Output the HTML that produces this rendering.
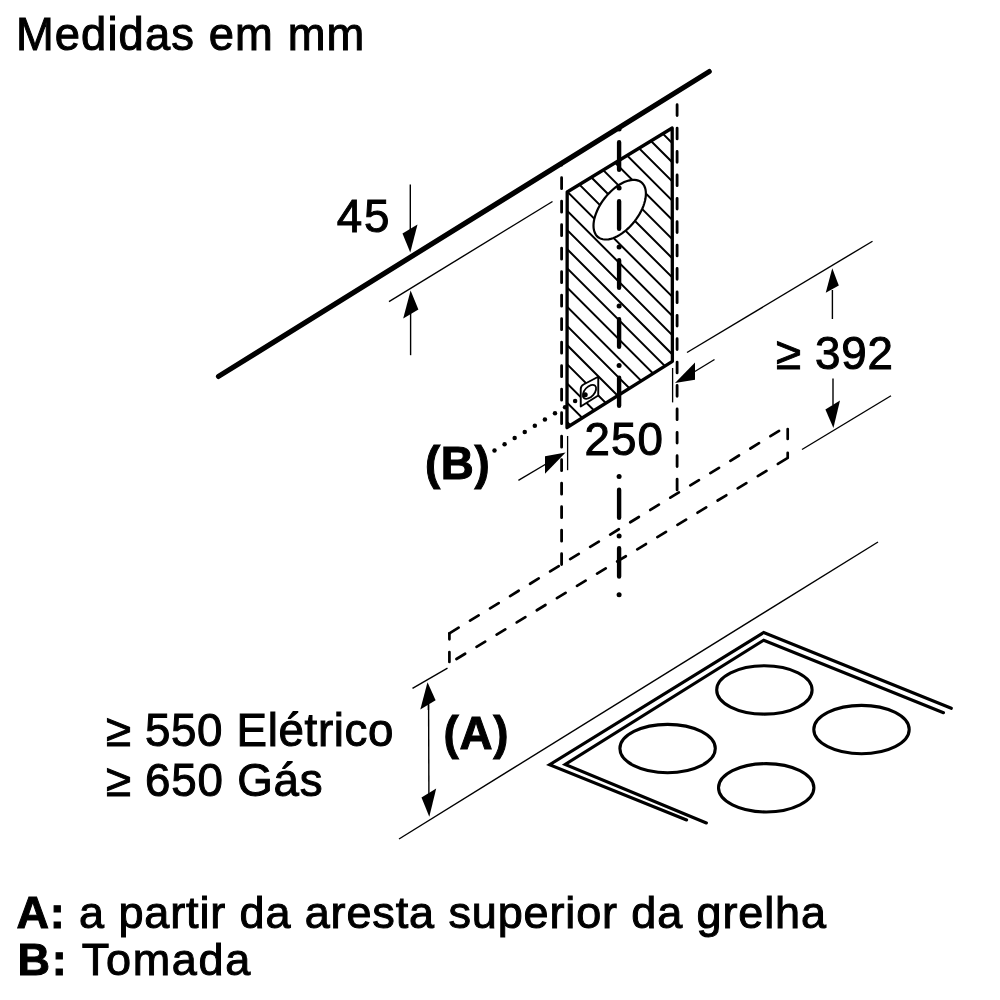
<!DOCTYPE html>
<html><head><meta charset="utf-8"><style>
html,body{margin:0;padding:0;background:#fff;}
svg{display:block;filter:grayscale(100%);}
text{font-family:"Liberation Sans",sans-serif;fill:#000;}
</style></head><body>
<svg width="1000" height="1000" viewBox="0 0 1000 1000" stroke="#000">
<rect x="0" y="0" width="1000" height="1000" fill="#fff" stroke="none"/>
<line x1="218.5" y1="376.4" x2="709.2" y2="71.6" stroke-width="5.2" stroke-linecap="round" />
<line x1="389" y1="301.6" x2="552.5" y2="201.5" stroke-width="1.4" stroke-linecap="butt" />
<line x1="410.3" y1="184.4" x2="410.3" y2="232" stroke-width="1.4" stroke-linecap="butt" />
<polygon points="410.25,252.5 402.5,233.5 417.5,224.5" fill="#000" stroke="none" stroke-width="0" />
<line x1="410.6" y1="355.2" x2="410.6" y2="312" stroke-width="1.4" stroke-linecap="butt" />
<polygon points="410.6,290.4 403.2,318.6 418.4,309.4" fill="#000" stroke="none" stroke-width="0" />
<text x="336.7" y="232" font-size="45.7" font-weight="400" text-anchor="start" letter-spacing="2">45</text>
<path d="M561.6 163L561.6 165.2M561.6 177.7L561.6 188.7M561.6 201.2L561.6 212.2M561.6 224.7L561.6 235.7M561.6 248.2L561.6 259.2M561.6 271.7L561.6 282.7M561.6 295.2L561.6 306.2M561.6 318.7L561.6 329.7M561.6 342.2L561.6 353.2M561.6 365.7L561.6 376.7M561.6 389.2L561.6 400.2M561.6 412.7L561.6 423.7M561.6 436.2L561.6 447.2M561.6 459.7L561.6 470.7M561.6 483.2L561.6 494.2M561.6 506.7L561.6 517.7M561.6 530.2L561.6 541.2M561.6 553.7L561.6 564.5" stroke-width="2.8" stroke-linecap="round" fill="none"/>
<path d="M677.1 104.7L677.1 115.5M677.1 128.1L677.1 138.9M677.1 151.5L677.1 162.3M677.1 174.9L677.1 185.7M677.1 198.3L677.1 209.1M677.1 221.7L677.1 232.5M677.1 245.1L677.1 255.9M677.1 268.5L677.1 279.3M677.1 291.9L677.1 302.7M677.1 315.3L677.1 326.1M677.1 338.7L677.1 349.5M677.1 362.1L677.1 372.9M677.1 385.5L677.1 396.3M677.1 408.9L677.1 419.7M677.1 432.3L677.1 443.1M677.1 455.7L677.1 466.5M677.1 479.1L677.1 489.9" stroke-width="2.8" stroke-linecap="round" fill="none"/>
<clipPath id="cp"><polygon points="567.2,192 672.2,128 672.4,361.3 567.0,427.5"/></clipPath>
<path clip-path="url(#cp)" d="M560 -199.6L680 -79.6M560 -180.4L680 -60.4M560 -161.2L680 -41.2M560 -142L680 -22M560 -122.8L680 -2.8M560 -103.6L680 16.4M560 -84.4L680 35.6M560 -65.2L680 54.8M560 -46L680 74M560 -26.8L680 93.2M560 -7.6L680 112.4M560 11.6L680 131.6M560 30.8L680 150.8M560 50L680 170M560 69.2L680 189.2M560 88.4L680 208.4M560 107.6L680 227.6M560 126.8L680 246.8M560 146L680 266M560 165.2L680 285.2M560 184.4L680 304.4M560 203.6L680 323.6M560 222.8L680 342.8M560 242L680 362M560 261.2L680 381.2M560 280.4L680 400.4M560 299.6L680 419.6M560 318.8L680 438.8M560 338L680 458M560 357.2L680 477.2M560 376.4L680 496.4M560 395.6L680 515.6M560 414.8L680 534.8M560 434L680 554M560 453.2L680 573.2M560 472.4L680 592.4M560 491.6L680 611.6M560 510.8L680 630.8M560 530L680 650M560 549.2L680 669.2" stroke-width="2.0" fill="none"/>
<path d="M645.9 193.7 L645.8 195.96 L645.5 198.32 L645.01 200.77 L644.32 203.28 L643.45 205.85 L642.39 208.44 L641.16 211.05 L639.77 213.64 L638.23 216.21 L636.54 218.72 L634.73 221.17 L632.8 223.52 L630.77 225.78 L628.66 227.91 L626.48 229.9 L624.25 231.74 L621.98 233.41 L619.7 234.9 L617.42 236.2 L615.15 237.3 L612.92 238.18 L610.74 238.85 L608.63 239.3 L606.6 239.52 L604.67 239.52 L602.86 239.29 L601.17 238.83 L599.63 238.15 L598.24 237.26 L597.01 236.16 L595.95 234.85 L595.08 233.35 L594.39 231.68 L593.9 229.83 L593.6 227.84 L593.5 225.7 L593.6 223.44 L593.9 221.08 L594.39 218.63 L595.08 216.12 L595.95 213.55 L597.01 210.96 L598.24 208.35 L599.63 205.76 L601.17 203.19 L602.86 200.68 L604.67 198.23 L606.6 195.88 L608.63 193.62 L610.74 191.49 L612.92 189.5 L615.15 187.66 L617.42 185.99 L619.7 184.5 L621.98 183.2 L624.25 182.1 L626.48 181.22 L628.66 180.55 L630.77 180.1 L632.8 179.88 L634.73 179.88 L636.54 180.11 L638.23 180.57 L639.77 181.25 L641.16 182.14 L642.39 183.24 L643.45 184.55 L644.32 186.05 L645.01 187.72 L645.5 189.57 L645.8 191.56Z" fill="#fff" stroke-width="2.2"/>
<path d="M580.75 389 Q580.75 386 583.5 384.5 L598.25 376.75 L598.25 395.5 L580.75 406.5 Z" fill="#fff" stroke-width="1.9" stroke-linejoin="round"/>
<ellipse cx="589.5" cy="391.8" rx="8.3" ry="4.9" transform="rotate(-48 589.5 391.8)" fill="none" stroke-width="1.8"/>
<polygon points="567.2,192 672.2,128 672.4,361.3 567,427.5" fill="none" stroke="#000" stroke-width="3.3" stroke-linejoin="round"/>
<circle cx="494.5" cy="450.5" r="2.25" fill="#000" stroke="none"/>
<circle cx="504.58" cy="444.31" r="2.25" fill="#000" stroke="none"/>
<circle cx="514.66" cy="438.12" r="2.25" fill="#000" stroke="none"/>
<circle cx="524.74" cy="431.93" r="2.25" fill="#000" stroke="none"/>
<circle cx="534.82" cy="425.74" r="2.25" fill="#000" stroke="none"/>
<circle cx="544.9" cy="419.55" r="2.25" fill="#000" stroke="none"/>
<circle cx="554.98" cy="413.36" r="2.25" fill="#000" stroke="none"/>
<circle cx="565.06" cy="407.17" r="2.25" fill="#000" stroke="none"/>
<circle cx="575.14" cy="400.98" r="2.25" fill="#000" stroke="none"/>
<circle cx="585.22" cy="394.79" r="2.5" fill="#000" stroke="none"/>
<path d="M619.1 142.2L619.1 169.8M619.1 201.2L619.1 228.8M619.1 260.2L619.1 287.8M619.1 319.2L619.1 346.8M619.1 377.6L619.1 405.8M619.1 489.7L619.1 517.8M619.1 548.2L619.1 576.6" stroke-width="4.4" stroke-linecap="round"/>
<circle cx="619.1" cy="129" r="2.5" fill="#000" stroke="none"/>
<circle cx="619.1" cy="188" r="2.5" fill="#000" stroke="none"/>
<circle cx="619.1" cy="247" r="2.5" fill="#000" stroke="none"/>
<circle cx="619.1" cy="306" r="2.5" fill="#000" stroke="none"/>
<circle cx="619.1" cy="365.4" r="2.5" fill="#000" stroke="none"/>
<circle cx="619.1" cy="476.6" r="2.5" fill="#000" stroke="none"/>
<circle cx="619.1" cy="536" r="2.5" fill="#000" stroke="none"/>
<circle cx="619.1" cy="594.8" r="2.5" fill="#000" stroke="none"/>
<line x1="672.6" y1="368" x2="672.6" y2="402.4" stroke-width="1.3" stroke-linecap="butt" />
<line x1="567.6" y1="436" x2="567.6" y2="470.2" stroke-width="1.3" stroke-linecap="butt" />
<line x1="714.5" y1="359.5" x2="694" y2="372" stroke-width="1.4" stroke-linecap="butt" />
<polygon points="675,383 695,362.5 695,379.8" fill="#000" stroke="none" stroke-width="0" />
<line x1="518.4" y1="480.4" x2="546" y2="464" stroke-width="1.4" stroke-linecap="butt" />
<polygon points="565.6,452.4 545,456.2 545,473.7" fill="#000" stroke="none" stroke-width="0" />
<text x="584.4" y="455" font-size="45.7" font-weight="400" text-anchor="start" letter-spacing="1.2">250</text>
<text x="425" y="479" font-size="45.7" font-weight="700" text-anchor="start" letter-spacing="0.6">(B)</text>
<line x1="687" y1="352.5" x2="872.5" y2="241.25" stroke-width="1.4" stroke-linecap="butt" />
<line x1="802" y1="449.5" x2="891" y2="395.75" stroke-width="1.4" stroke-linecap="butt" />
<line x1="832.4" y1="319" x2="832.4" y2="290" stroke-width="1.4" stroke-linecap="butt" />
<polygon points="832.25,268.3 825.75,292.8 838.8,285.4" fill="#000" stroke="none" stroke-width="0" />
<line x1="833" y1="378.4" x2="833" y2="405" stroke-width="1.4" stroke-linecap="butt" />
<polygon points="833.4,428.1 825.4,409.5 840,400.4" fill="#000" stroke="none" stroke-width="0" />
<text x="775.8" y="368.8" font-size="45.7" font-weight="400" text-anchor="start" letter-spacing="0.775">≥ 392</text>
<path d="M779.05 430.91L770.44 436.2M759.02 443.21L750.42 448.49M739 455.5L730.39 460.79M718.97 467.8L710.36 473.08M698.94 480.09L690.34 485.38M678.92 492.39L670.31 497.67M658.89 504.68L650.28 509.97M638.86 516.98L630.26 522.26M618.84 529.27L610.23 534.56M598.81 541.57L590.2 546.85M578.78 553.87L570.18 559.15M558.76 566.16L550.15 571.45M538.73 578.46L530.12 583.74M518.7 590.75L510.09 596.04M498.68 603.05L490.07 608.33M478.65 615.34L470.04 620.63M458.62 627.64L449.4 633.3" stroke-width="2.7" stroke-linecap="round" fill="none"/>
<path d="M786.55 458.7L777.91 463.94M766.46 470.89L757.82 476.13M746.37 483.08L737.73 488.32M726.28 495.28L717.64 500.52M706.19 507.47L697.55 512.71M686.1 519.66L677.46 524.9M666.01 531.85L657.37 537.09M645.92 544.04L637.28 549.28M625.83 556.23L617.19 561.47M605.74 568.43L597.1 573.67M585.65 580.62L577.01 585.86M565.56 592.81L556.92 598.05M545.47 605L536.83 610.24M525.38 617.19L516.74 622.43M505.29 629.39L496.65 634.63M485.2 641.58L476.56 646.82M465.11 653.77L456.47 659.01" stroke-width="2.7" stroke-linecap="round" fill="none"/>
<path d="M787.7 429.05L787.7 438.95M787.7 452.75L787.7 458" stroke-width="2.7" stroke-linecap="round" fill="none"/>
<path d="M449.4 661.95L449.4 652.05M449.4 639.35L449.4 633.3" stroke-width="2.7" stroke-linecap="round" fill="none"/>
<line x1="399" y1="839" x2="878" y2="542" stroke-width="1.4" stroke-linecap="butt" />
<line x1="412.5" y1="688.3" x2="447.5" y2="668.2" stroke-width="1.4" stroke-linecap="butt" />
<line x1="428.4" y1="705" x2="428.4" y2="710" stroke-width="1.4" stroke-linecap="butt" />
<line x1="428.6" y1="704" x2="428.9" y2="794" stroke-width="1.4" stroke-linecap="butt" />
<polygon points="427.5,682.3 420.3,709.6 435.6,700.3" fill="#000" stroke="none" stroke-width="0" />
<polygon points="429.3,816.8 421.5,797.6 436.2,788.6" fill="#000" stroke="none" stroke-width="0" />
<text x="443.6" y="748.5" font-size="45.7" font-weight="700" text-anchor="start" letter-spacing="0.7">(A)</text>
<text x="105.8" y="745.6" font-size="45.7" font-weight="400" text-anchor="start" letter-spacing="0.669">≥ 550 Elétrico</text>
<text x="105.8" y="795.5" font-size="45.7" font-weight="400" text-anchor="start" letter-spacing="0.775">≥ 650 Gás</text>
<path d="M686.6 820 L549.5 764.8 L763.7 632.5 L951.3 708.3" fill="none" stroke-width="3.1" stroke-linecap="round" stroke-linejoin="miter"/>
<path d="M706.4 823 L565.2 764.4 L763.7 640.2 L943.5 712.7" fill="none" stroke-width="3.1" stroke-linecap="round" stroke-linejoin="miter"/>
<ellipse cx="667.6" cy="748.6" rx="47.7" ry="24.2" fill="none" stroke-width="3.1"/>
<ellipse cx="764.4" cy="689.9" rx="47.7" ry="24.2" fill="none" stroke-width="3.1"/>
<ellipse cx="861.5" cy="729.6" rx="47.7" ry="24.2" fill="none" stroke-width="3.1"/>
<ellipse cx="766.2" cy="787.8" rx="47.7" ry="24.2" fill="none" stroke-width="3.1"/>
<text x="15.9" y="49.9" font-size="45.3" font-weight="400" text-anchor="start" letter-spacing="1.133">Medidas em mm</text>
<text x="16.5" y="927.7" font-size="45" font-weight="400" text-anchor="start" letter-spacing="0.874"><tspan font-weight="700">A:</tspan> a partir da aresta superior da grelha</text>
<text x="17.5" y="974.5" font-size="45" font-weight="400" text-anchor="start" letter-spacing="1.688"><tspan font-weight="700">B:</tspan> Tomada</text>
</svg></body></html>
